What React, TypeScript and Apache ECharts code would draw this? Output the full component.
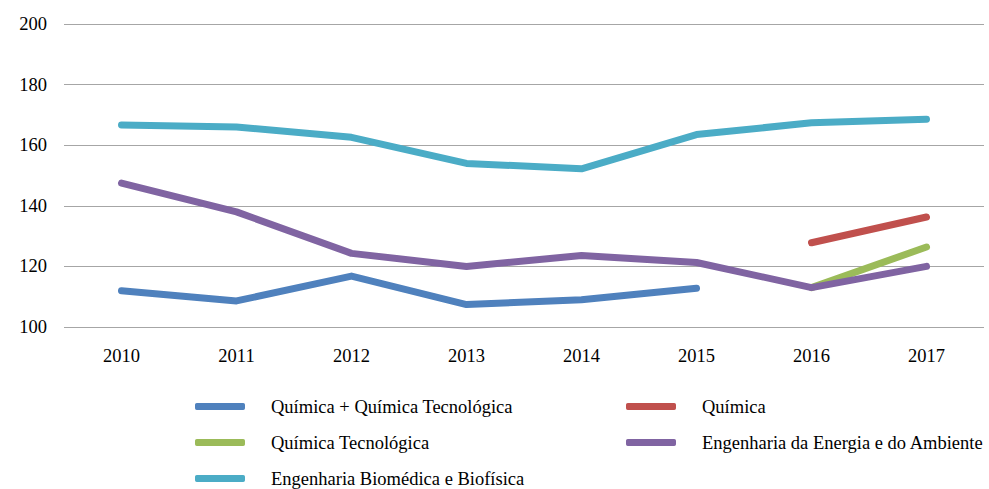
import React, { useEffect, useRef } from "react";
import * as echarts from "echarts";

const years = ["2010", "2011", "2012", "2013", "2014", "2015", "2016", "2017"];
const seriesNames = [
  "Química + Química Tecnológica",
  "Química",
  "Química Tecnológica",
  "Engenharia da Energia e do Ambiente",
  "Engenharia Biomédica e Biofísica",
];
const quimicaMaisTec = [112, 108.6, 116.8, 107.4, 109, 112.8, null, null];
const quimica = [null, null, null, null, null, null, 127.8, 136.3];
const quimicaTec = [null, null, null, null, null, null, 113, 126.4];
const energiaAmbiente = [147.5, 138, 124.3, 120, 123.6, 121.3, 113, 120];
const biomedica = [166.7, 166, 162.6, 154, 152.2, 163.5, 167.4, 168.6];
const colors = ["#4F81BD", "#C0504D", "#9BBB59", "#8064A2", "#4BACC6"];

const legendPos = [
  { left: 195, top: 397 },
  { left: 626, top: 397 },
  { left: 195, top: 433 },
  { left: 626, top: 433 },
  { left: 195, top: 469 },
];

export default function App() {
  const ref = useRef<HTMLDivElement>(null);
  useEffect(() => {
    if (!ref.current) return;
    const chart = echarts.init(ref.current, null, { renderer: "svg" });
    const datas = [quimicaMaisTec, quimica, quimicaTec, energiaAmbiente, biomedica];
    const font = "Liberation Serif";
    const fs = 18.5;
    chart.setOption({
      animation: false,
      color: colors,
      textStyle: { fontFamily: font },
      grid: { left: 64, right: 5, top: 24, bottom: 162 },
      legend: seriesNames.map((n, i) => ({
        data: [n],
        left: legendPos[i].left,
        top: legendPos[i].top,
        icon: "roundRect",
        itemWidth: 50,
        itemHeight: 7,
        padding: 0,
        textStyle: {
          fontFamily: font,
          fontSize: fs,
          color: "#000",
          padding: [0, 0, 0, 21],
        },
      })),
      xAxis: {
        type: "category",
        data: years,
        boundaryGap: true,
        axisLine: { show: false },
        axisTick: { show: false },
        axisLabel: { color: "#000", fontSize: fs, fontFamily: font, margin: 19 },
      },
      yAxis: {
        type: "value",
        min: 100,
        max: 200,
        interval: 20,
        axisLine: { show: false },
        axisTick: { show: false },
        splitLine: { lineStyle: { color: "#A6A6A6", width: 1 } },
        axisLabel: { color: "#000", fontSize: fs, fontFamily: font, margin: 17 },
      },
      series: seriesNames.map((n, i) => ({
        name: n,
        type: "line",
        data: datas[i],
        symbol: "none",
        connectNulls: false,
        lineStyle: { width: 7, color: colors[i], cap: "round", join: "round" },
        itemStyle: { color: colors[i] },
      })),
    });
    return () => chart.dispose();
  }, []);
  return (
    <div
      ref={ref}
      style={{ position: "absolute", left: 0, top: 0, width: 989, height: 489 }}
    />
  );
}
